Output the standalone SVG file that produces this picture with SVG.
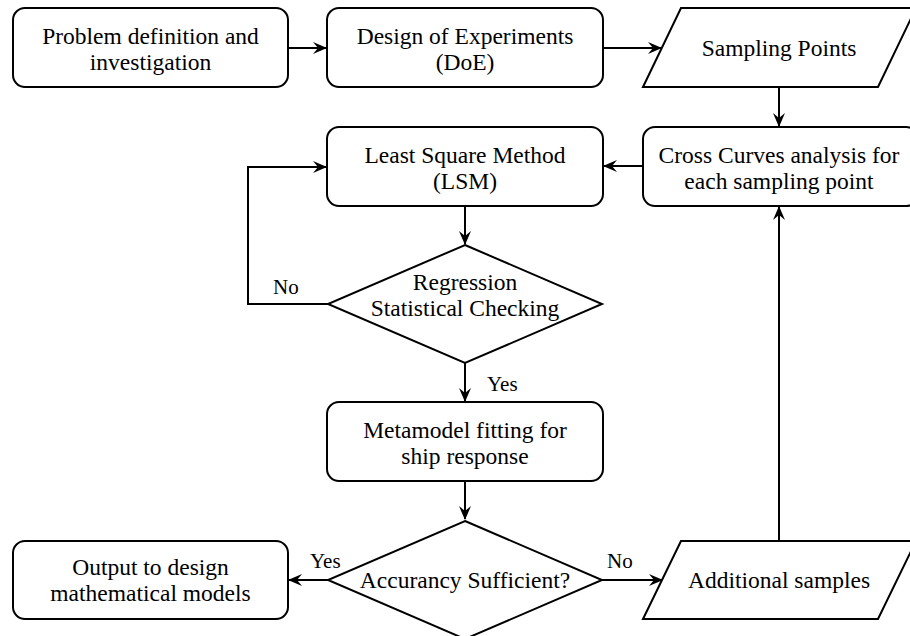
<svg xmlns="http://www.w3.org/2000/svg" width="910" height="636" viewBox="0 0 910 636">
<defs>
<style>
.n{fill:#fff;stroke:#000;stroke-width:2}
.t{font-family:"Liberation Serif","Times New Roman",serif;font-size:23.5px;fill:#000;text-anchor:middle}
.l{font-family:"Liberation Serif","Times New Roman",serif;font-size:21px;fill:#000}
.c{fill:none;stroke:#000;stroke-width:2}
</style>
<marker id="a" viewBox="0 0 14 12" refX="13" refY="6" markerWidth="14" markerHeight="12" markerUnits="userSpaceOnUse" orient="auto">
<path d="M0,0 L14,6 L0,12 L5,6 Z" fill="#000"/>
</marker>
</defs>
<rect width="910" height="636" fill="#fff"/>
<g id="connectors">
<path class="c" d="M288,48 H326" marker-end="url(#a)"/>
<path class="c" d="M603,48 H661" marker-end="url(#a)"/>
<path class="c" d="M779,87 V126" marker-end="url(#a)"/>
<path class="c" d="M643,166 H604" marker-end="url(#a)"/>
<path class="c" d="M465,206 V244" marker-end="url(#a)"/>
<path class="c" d="M328,304 H248 V167 H326" marker-end="url(#a)"/>
<path class="c" d="M465,363 V401" marker-end="url(#a)"/>
<path class="c" d="M465,481 V519" marker-end="url(#a)"/>
<path class="c" d="M328,580 H289" marker-end="url(#a)"/>
<path class="c" d="M602,580 H662" marker-end="url(#a)"/>
<path class="c" d="M779,541 V207" marker-end="url(#a)"/>
<text class="l" x="273" y="294">No</text>
<text class="l" x="487" y="391">Yes</text>
<text class="l" x="310" y="568">Yes</text>
<text class="l" x="607" y="568">No</text>
</g>
<g id="problem">
<rect class="n" x="13" y="8" width="275" height="79" rx="12"/>
<text class="t" x="150.5" y="44">Problem definition and</text>
<text class="t" x="150.5" y="70">investigation</text>
</g>
<g id="doe">
<rect class="n" x="327" y="8" width="276" height="79" rx="12"/>
<text class="t" x="465" y="44">Design of Experiments</text>
<text class="t" x="465" y="70">(DoE)</text>
</g>
<g id="sampling">
<polygon class="n" points="643,87 681,8 916,8 878,87"/>
<text class="t" x="779" y="56">Sampling Points</text>
</g>
<g id="crosscurves">
<rect class="n" x="643" y="127" width="275" height="79" rx="12"/>
<text class="t" x="779" y="163">Cross Curves analysis for</text>
<text class="t" x="779" y="189">each sampling point</text>
</g>
<g id="lsm">
<rect class="n" x="327" y="127" width="276" height="79" rx="12"/>
<text class="t" x="465" y="163">Least Square Method</text>
<text class="t" x="465" y="189">(LSM)</text>
</g>
<g id="regression">
<polygon class="n" points="465,245 602,304 465,363 328,304"/>
<text class="t" x="465" y="290">Regression</text>
<text class="t" x="465" y="316">Statistical Checking</text>
</g>
<g id="metamodel">
<rect class="n" x="327" y="402" width="276" height="79" rx="12"/>
<text class="t" x="465" y="438">Metamodel fitting for</text>
<text class="t" x="465" y="464">ship response</text>
</g>
<g id="accuracy">
<polygon class="n" points="465,521 602,580 465,639 328,580"/>
<text class="t" x="465" y="588">Accurancy Sufficient?</text>
</g>
<g id="output">
<rect class="n" x="13" y="541" width="275" height="78" rx="12"/>
<text class="t" x="150.5" y="575">Output to design</text>
<text class="t" x="150.5" y="601">mathematical models</text>
</g>
<g id="additional">
<polygon class="n" points="643,619 681,541 916,541 878,619"/>
<text class="t" x="779" y="588">Additional samples</text>
</g>
</svg>
